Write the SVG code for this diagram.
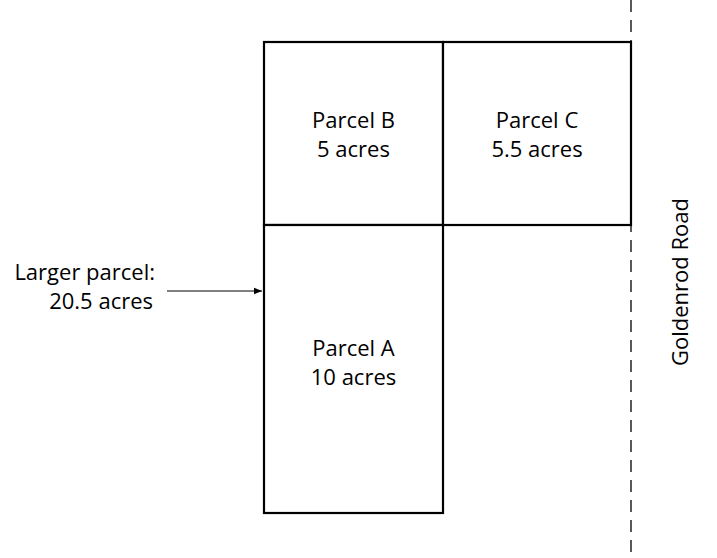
<svg xmlns="http://www.w3.org/2000/svg" width="717" height="558" viewBox="0 0 717 558">
<style>
.parcel{fill:#fff;stroke:#000;stroke-width:2.2}
.t{font-family:"Open Sans","DejaVu Sans",sans-serif;font-size:22px;fill:#000}
.m{text-anchor:middle}
.e{text-anchor:end}
</style>
<defs>
<marker id="ah" viewBox="0 0 10 10" refX="10" refY="5" markerWidth="8" markerHeight="8" markerUnits="userSpaceOnUse" orient="auto">
<path d="M0,1 L10,5 L0,9 Z" fill="#000"/>
</marker>
</defs>
<rect width="717" height="558" fill="#fff"/>
<g id="road">
<line x1="631" y1="0" x2="631" y2="558" stroke="#000" stroke-width="1.3" stroke-dasharray="12 8"/>
<text class="t m" transform="translate(688,282) rotate(-90)">Goldenrod Road</text>
</g>
<g id="parcelB">
<rect class="parcel" x="264" y="42" width="179" height="183"/>
<text class="t m" x="353.5" y="128">Parcel B</text>
<text class="t m" x="353.5" y="157">5 acres</text>
</g>
<g id="parcelC">
<rect class="parcel" x="443" y="42" width="188" height="183"/>
<text class="t m" x="537" y="128">Parcel C</text>
<text class="t m" x="537" y="157">5.5 acres</text>
</g>
<g id="parcelA">
<rect class="parcel" x="264" y="225" width="179" height="288"/>
<text class="t m" x="353.5" y="356">Parcel A</text>
<text class="t m" x="353.5" y="385">10 acres</text>
</g>
<g id="label">
<text class="t e" x="155" y="280">Larger parcel:</text>
<text class="t e" x="153" y="309">20.5 acres</text>
</g>
<g id="connectors">
<line x1="167" y1="291" x2="262" y2="291" stroke="#000" stroke-width="1.2" marker-end="url(#ah)"/>
</g>
</svg>
